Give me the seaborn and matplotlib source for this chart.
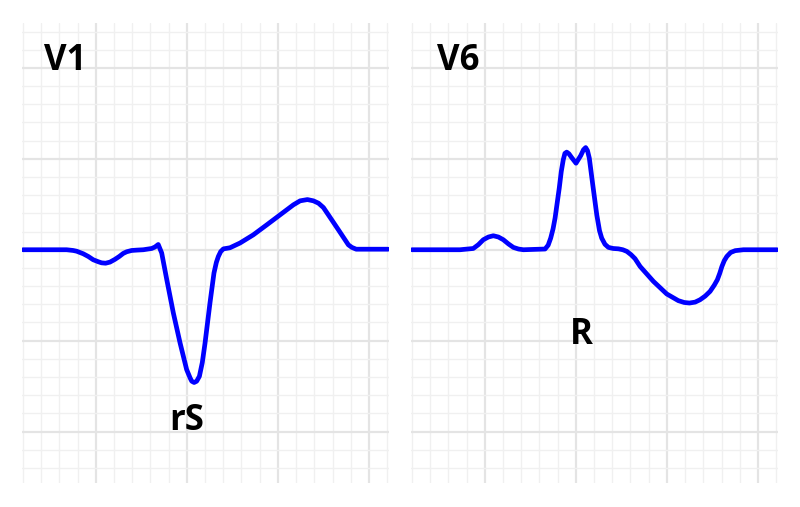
import numpy as np
import pandas as pd
import matplotlib
matplotlib.use("Agg")
import matplotlib.pyplot as plt
import seaborn as sns

# --------------------------------------------------
# DATA (grid units: 1 = one small box)
# --------------------------------------------------

v1_x = [0.0, 2.03, 2.40, 2.76, 2.95, 3.31, 3.59, 3.86, 4.14, 4.32, 4.54, 4.78,
        5.05, 5.29, 5.51, 5.70, 5.97, 6.25, 6.61, 7.07, 7.25, 7.43, 7.62,
        7.90, 8.26, 8.63, 8.99, 9.18, 9.27, 9.40, 9.54, 9.69, 9.85, 10.0,
        10.27, 10.49, 10.62, 10.73, 10.86, 11.01, 11.20, 11.37, 11.92, 12.65,
        13.39, 14.12, 14.85, 15.22, 15.62, 15.95, 16.23, 16.50, 16.77, 17.32,
        17.87, 18.06, 18.30, 20.05]
v1_y = [0.0, 0.0, 0.0, -0.04, -0.08, -0.22, -0.37, -0.55, -0.66, -0.72, -0.74,
        -0.68, -0.53, -0.37, -0.20, -0.11, -0.04, -0.02, 0.0, 0.07, 0.15, 0.29,
        -0.18, -1.65, -3.48, -5.13, -6.59, -7.05, -7.23, -7.30, -7.23, -6.96,
        -6.20, -5.13, -2.93, -1.28, -0.70, -0.37, -0.10, 0.05, 0.08, 0.11,
        0.37, 0.82, 1.37, 1.92, 2.47, 2.69, 2.76, 2.69, 2.56, 2.32, 1.92, 1.10,
        0.27, 0.13, 0.03, 0.03]

v6_x = [0.0, 2.64, 3.37, 3.65, 3.92, 4.20, 4.47, 4.75, 5.02, 5.30, 5.57, 5.85,
        6.12, 7.31, 7.48, 7.62, 7.75, 7.86, 8.09, 8.20, 8.31, 8.40, 8.50, 8.62,
        8.77, 9.01, 9.27, 9.42, 9.54, 9.64, 9.74, 9.93, 10.15, 10.30, 10.42,
        10.60, 10.79, 11.05, 11.34, 11.58, 11.80, 12.03, 12.25, 12.53, 13.26,
        13.99, 14.63, 14.95, 15.24, 15.55, 15.82, 16.10, 16.37, 16.60, 16.77,
        16.90, 17.02, 17.15, 17.29, 17.50, 17.75, 18.20, 20.05]
v6_y = [0.0, 0.0, 0.07, 0.28, 0.55, 0.70, 0.77, 0.70, 0.55, 0.32, 0.13, 0.04,
        0.0, 0.04, 0.25, 0.64, 1.15, 1.74, 3.39, 4.30, 4.95, 5.30, 5.37, 5.28,
        5.07, 4.76, 5.18, 5.50, 5.62, 5.45, 5.04, 3.57, 1.92, 1.05, 0.64, 0.30,
        0.13, 0.07, 0.05, 0.0, -0.09, -0.27, -0.49, -0.92, -1.74, -2.43, -2.80,
        -2.90, -2.93, -2.88, -2.75, -2.55, -2.29, -1.95, -1.65, -1.30, -0.92,
        -0.60, -0.37, -0.15, -0.05, 0.0, 0.0]

lead_names = ["V1", "V6"]
complex_names = ["rS", "R"]

# --------------------------------------------------
# STYLE
# --------------------------------------------------

sns.set_theme(style="white")
plt.rcParams["font.family"] = ["Open Sans", "DejaVu Sans"]

fig = plt.figure(figsize=(8, 5.07), dpi=100)

panels = [
    (22, v1_x, v1_y, lead_names[0], complex_names[0], 8.98, -9.89, 1.15),
    (411, v6_x, v6_y, lead_names[1], complex_names[1], 9.29, -5.16, 1.37),
]

for left_px, xs, ys, lead, cname, cx, cy, lx in panels:

    ax = fig.add_axes([left_px / 800, 24.5 / 507, 367 / 800, 459.5 / 507])

    ax.set_xlim(-0.05, 20.1)
    ax.set_ylim(-12.8, 12.47)

    # minor and major grid
    ax.set_xticks(np.arange(0, 21, 1), minor=True)
    ax.set_xticks([4, 9, 14, 19])
    ax.set_yticks(np.arange(-12, 13, 1), minor=True)
    ax.set_yticks([-10, -5, 0, 5, 10])

    ax.grid(which="minor", color="#f0f0f0", linewidth=1.0)
    ax.grid(which="major", color="#e4e4e4", linewidth=1.6)
    ax.set_axisbelow(True)

    ax.tick_params(which="both", length=0, labelbottom=False, labelleft=False)
    for s in ax.spines.values():
        s.set_visible(False)

    df = pd.DataFrame({"t": xs, "mv": ys})

    sns.lineplot(
        data=df,
        x="t",
        y="mv",
        ax=ax,
        color="#0000ff",
        linewidth=3.4,
        estimator=None,
        sort=False,
    )
    ax.lines[-1].set_solid_joinstyle("round")
    ax.lines[-1].set_solid_capstyle("round")

    ax.set_xlabel("")
    ax.set_ylabel("")

    ax.text(lx, 9.89, lead, fontsize=25, fontweight="bold",
            ha="left", va="baseline", color="black")

    ax.text(cx, cy, cname, fontsize=25, fontweight="bold",
            ha="center", va="baseline", color="black")

plt.savefig("out.png", dpi=100)
plt.close()
